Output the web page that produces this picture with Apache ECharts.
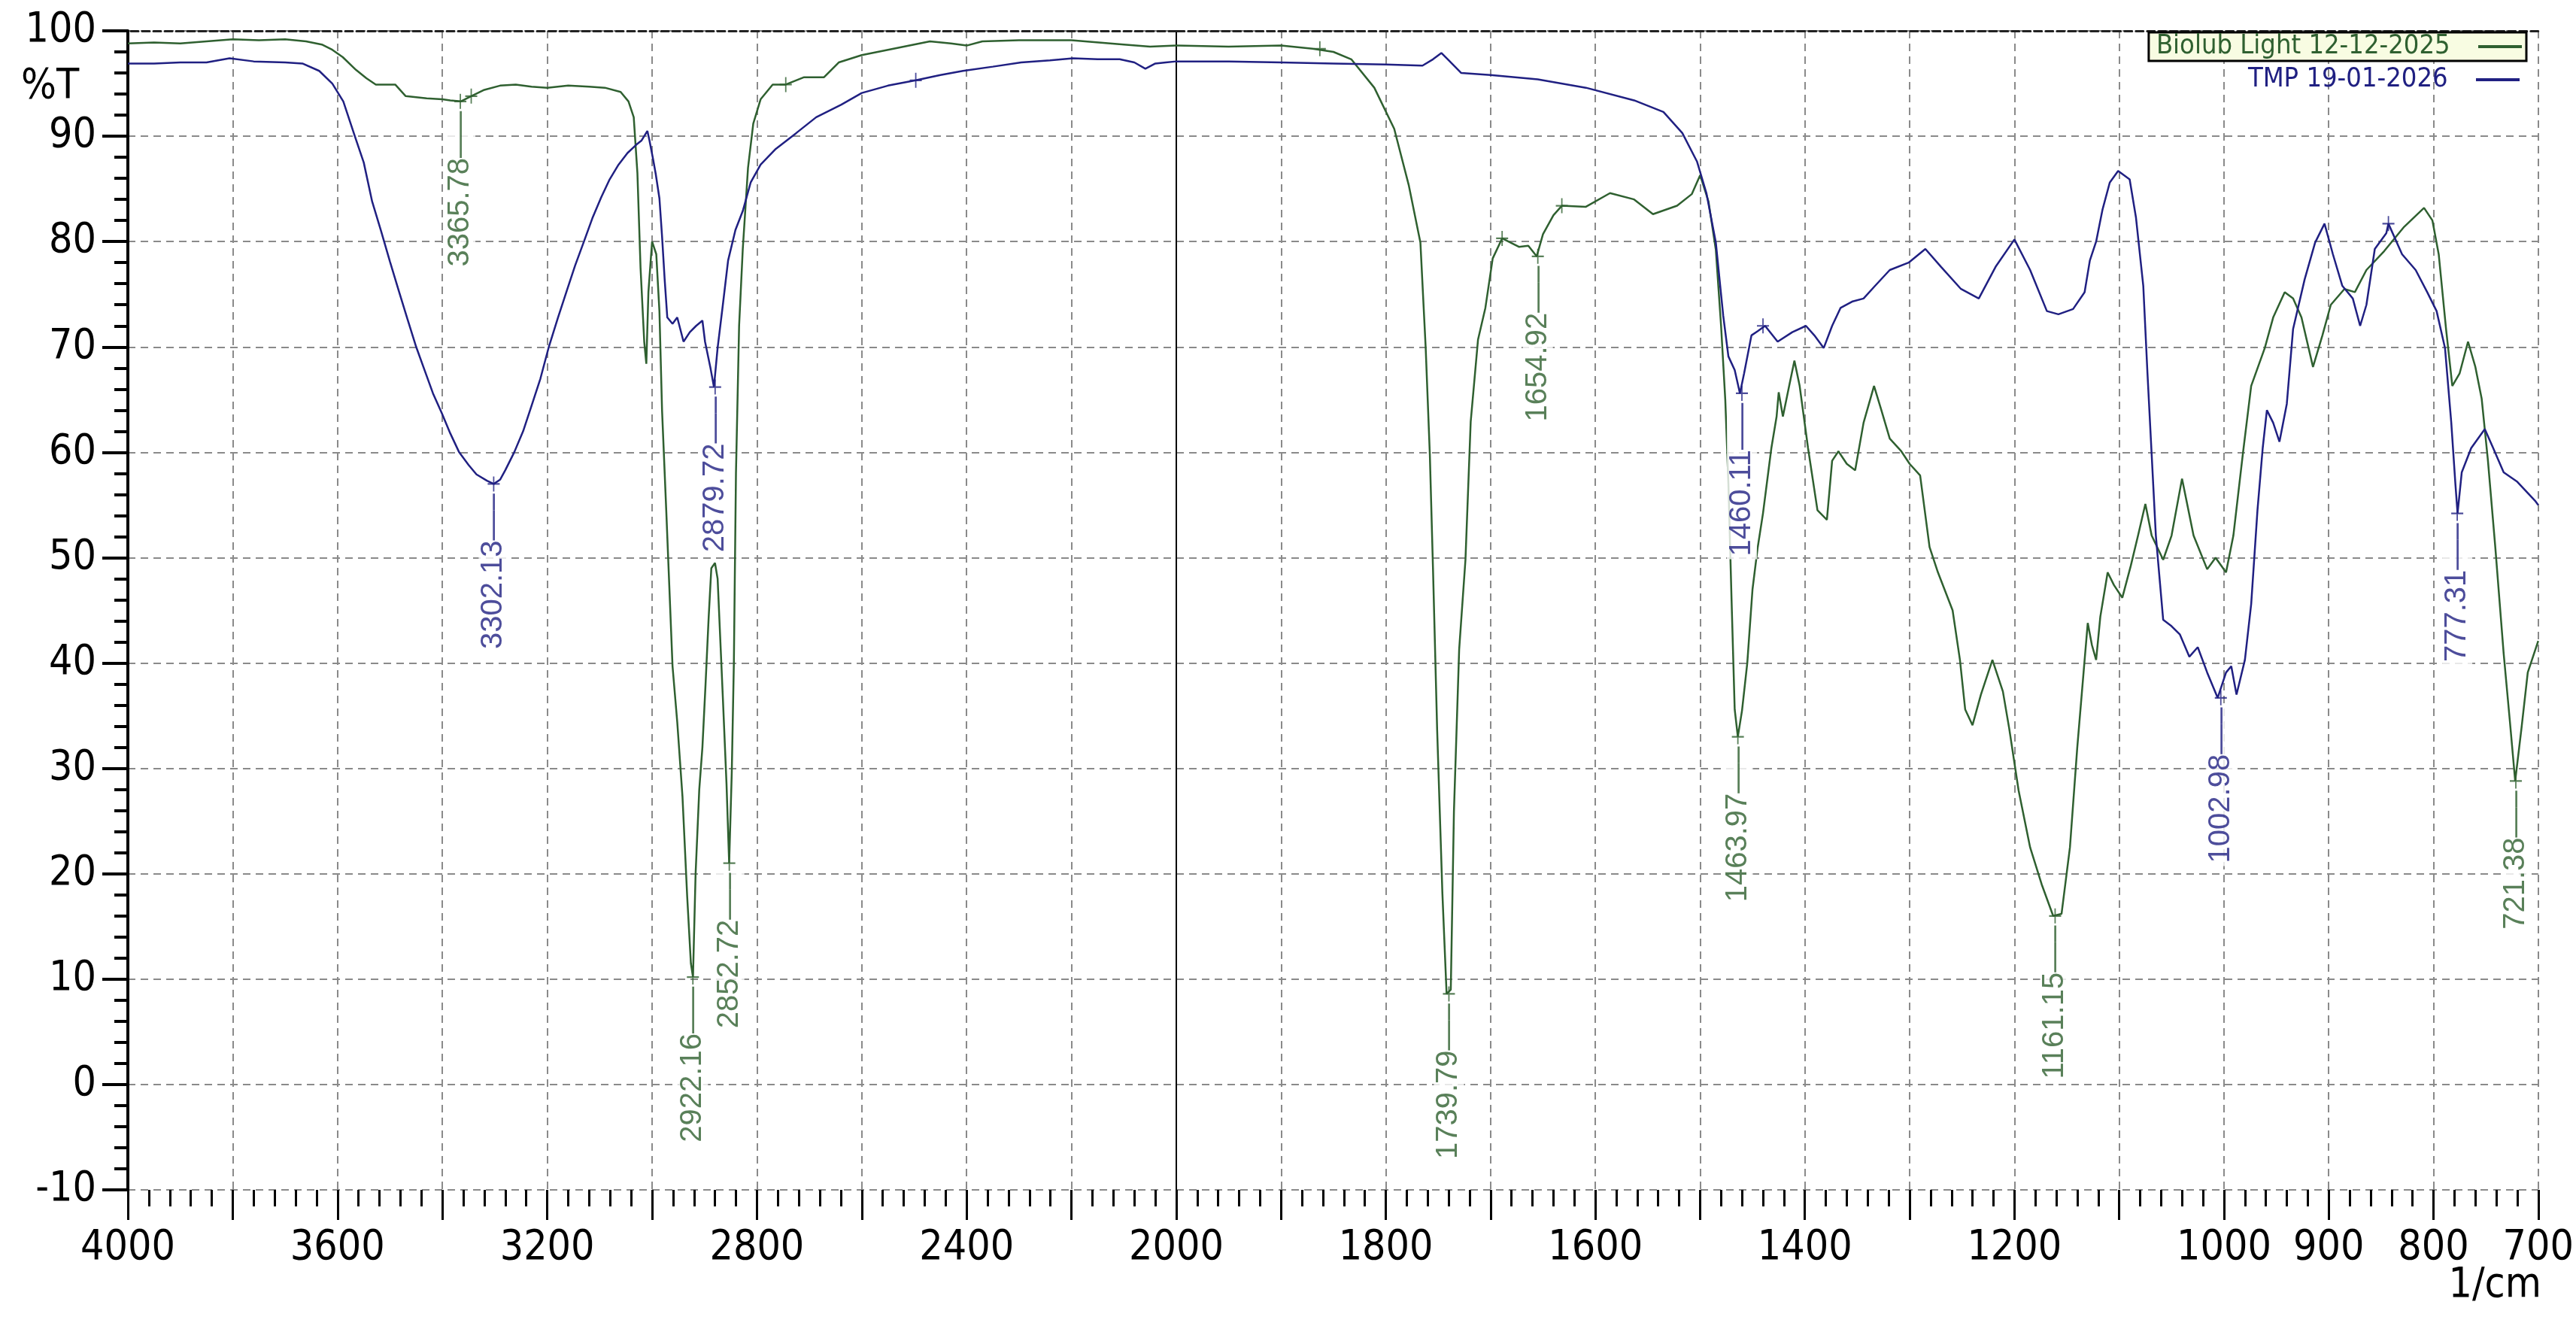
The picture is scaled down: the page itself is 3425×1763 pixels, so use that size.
<!DOCTYPE html>
<html>
<head>
<meta charset="utf-8">
<title>IR spectra</title>
<script src="https://cdn.jsdelivr.net/npm/echarts@6/dist/echarts.min.js"></script>
<style>
  html, body { margin: 0; padding: 0; background: #fff; }
  #chart { width: 3425px; height: 1763px; }
</style>
</head>
<body>
<div id="chart"></div>
<script>
// spectrum names
const greenName = 'Biolub Light 12-12-2025'
const blueName = 'TMP 19-01-2026'

// Biolub Light: wavenumber (1/cm) and %T
const greenWn = [4000, 3950, 3900, 3850, 3800, 3750, 3700, 3660, 3630, 3610, 3590, 3565, 3545, 3527, 3490, 3470, 3430, 3400, 3385, 3365, 3345, 3320, 3290, 3260, 3230, 3200, 3160, 3120, 3090, 3060, 3045, 3035, 3028, 3022, 3015, 3011, 3007, 3000, 2992, 2986, 2981, 2973, 2961, 2952, 2942, 2933, 2926, 2922, 2917, 2910, 2904, 2898, 2892, 2887, 2880, 2875, 2865, 2858, 2853, 2848, 2844, 2840, 2834, 2827, 2817, 2807, 2793, 2770, 2745, 2710, 2672, 2644, 2600, 2550, 2470, 2430, 2400, 2370, 2300, 2200, 2100, 2050, 2000,
  1950, 1900, 1870, 1850, 1833, 1811, 1792, 1778, 1767, 1762, 1758, 1755, 1751, 1746, 1742, 1738, 1735, 1730, 1724, 1719, 1712, 1705, 1698, 1689, 1673, 1664, 1656, 1650, 1640, 1632, 1609, 1586, 1563, 1545, 1522, 1508, 1500, 1492, 1485, 1480, 1476, 1473, 1470, 1467, 1464, 1460, 1455, 1450, 1445, 1440, 1432, 1427, 1425, 1421, 1415, 1410, 1405, 1397, 1388, 1379, 1374, 1368, 1360, 1352, 1344, 1334, 1327, 1319, 1308, 1300, 1290, 1281, 1273, 1259, 1252, 1247, 1240, 1232, 1221, 1211, 1205, 1196, 1185, 1174, 1163, 1155, 1147, 1140, 1134, 1130, 1126, 1122, 1118, 1111, 1105, 1097, 1089, 1082, 1075, 1069, 1058, 1050, 1040, 1029, 1016, 1008, 998, 991, 982, 974, 961, 953, 942, 934, 926, 915, 906, 898, 885, 875, 864, 847, 828, 809, 801, 795, 788, 782, 775, 767, 760, 754, 748, 741, 733, 727, 722, 716, 710, 700]
const greenT = [98.8, 98.9, 98.8, 99.0, 99.2, 99.1, 99.2, 99.0, 98.7, 98.2, 97.5, 96.3, 95.5, 94.9, 94.9, 93.8, 93.6, 93.5, 93.4, 93.3, 93.8, 94.4, 94.8, 94.9, 94.7, 94.6, 94.8, 94.7, 94.6, 94.2, 93.3, 91.8, 86.5, 77.5, 70.5, 68.4, 75.2, 80.0, 78.8, 73.4, 64.0, 54.5, 39.7, 34.4, 27.3, 17.8, 11.5, 10.2, 20.0, 28.0, 32.0, 38.0, 44.4, 49.0, 49.5, 48.0, 36.7, 28.5, 21.0, 29.6, 40.0, 58.0, 72.0, 79.3, 87.0, 91.2, 93.5, 94.9, 94.9, 95.6, 95.6, 97.0, 97.7, 98.2, 99.0, 98.8, 98.6, 99.0, 99.1, 99.1, 98.7, 98.5, 98.6,
  98.5, 98.6, 98.3, 98.0, 97.3, 94.6, 90.7, 85.3, 79.9, 70.0, 59.8, 49.0, 33.6, 18.1, 8.6, 9.0, 25.9, 41.3, 49.8, 62.9, 70.7, 73.7, 78.4, 80.3, 79.5, 79.6, 78.6, 80.7, 82.5, 83.4, 83.3, 84.6, 84.0, 82.6, 83.4, 84.5, 86.3, 83.8, 79.2, 72.0, 65.0, 57.0, 46.0, 35.6, 33.0, 35.5, 40.0, 47.0, 51.0, 54.2, 60.4, 63.4, 65.7, 63.4, 66.3, 68.7, 66.3, 60.4, 54.5, 53.6, 59.2, 60.1, 58.9, 58.3, 62.8, 66.3, 64.0, 61.3, 60.1, 58.9, 57.8, 51.0, 48.6, 45.0, 40.3, 35.6, 34.1, 37.0, 40.3, 37.3, 33.8, 27.9, 22.5, 19.0, 16.0, 16.2, 22.5, 32.0, 39.1, 43.8, 41.7, 40.3, 44.4, 48.6, 47.4, 46.2, 49.2, 52.1, 55.1, 52.1, 49.8, 52.1, 57.5, 52.1, 48.9, 50.0, 48.6, 52.1, 59.8, 66.3, 69.9, 72.8, 75.2, 74.6, 72.8, 68.1, 71.1, 74.0, 75.5, 75.2, 77.3, 79.1, 81.4, 83.2, 82.0, 78.8, 71.7, 66.3, 67.5, 70.5, 68.1, 65.1, 59.2, 51.0, 40.9, 34.4, 28.8, 33.8, 39.1, 42.1]

// TMP: wavenumber (1/cm) and %T
const blueWn = [4000, 3950, 3900, 3850, 3806, 3760, 3700, 3667, 3635, 3610, 3589, 3567, 3550, 3534, 3517, 3500, 3483, 3467, 3450, 3434, 3418, 3401, 3385, 3368, 3350, 3335, 3315, 3302, 3290, 3280, 3263, 3246, 3230, 3213, 3197, 3180, 3163, 3147, 3130, 3114, 3097, 3081, 3064, 3047, 3030, 3020, 3009, 3005, 2998, 2993, 2986, 2981, 2976, 2971, 2961, 2952, 2940, 2928, 2916, 2904, 2899, 2889, 2882, 2875, 2865, 2855, 2841, 2827, 2812, 2793, 2764, 2725, 2687, 2639, 2600, 2550, 2497, 2450, 2407, 2350, 2296, 2241, 2197, 2150, 2108, 2080, 2059, 2040, 2020, 2000,
  1950, 1900, 1850, 1800, 1765, 1755, 1747, 1740, 1728, 1700, 1655, 1609, 1563, 1535, 1517, 1503, 1494, 1485, 1478, 1473, 1467, 1462, 1458, 1451, 1445, 1438, 1426, 1412, 1399, 1391, 1382, 1374, 1366, 1355, 1344, 1333, 1319, 1301, 1285, 1270, 1251, 1234, 1218, 1200, 1185, 1169, 1158, 1144, 1133, 1128, 1122, 1116, 1109, 1101, 1090, 1084, 1077, 1073, 1069, 1065, 1058, 1050, 1042, 1033, 1025, 1016, 1006, 998, 993, 988, 980, 974, 968, 963, 959, 953, 947, 940, 934, 923, 913, 904, 896, 887, 877, 870, 864, 856, 845, 843, 830, 817, 806, 797, 789, 783, 779, 777, 773, 764, 751, 743, 733, 720, 703, 700]
const blueT = [96.9, 96.9, 97.0, 97.0, 97.4, 97.1, 97.0, 96.9, 96.2, 95.0, 93.3, 90.0, 87.5, 83.8, 81.0, 78.1, 75.3, 72.7, 70.0, 67.8, 65.6, 63.7, 61.8, 60.0, 58.8, 57.9, 57.3, 57.0, 57.4, 58.3, 60.0, 62.0, 64.4, 67.0, 70.0, 72.7, 75.3, 77.7, 80.0, 82.2, 84.2, 85.9, 87.3, 88.4, 89.2, 89.6, 90.5, 89.6, 87.8, 86.4, 84.1, 80.5, 76.4, 72.8, 72.2, 72.8, 70.5, 71.4, 72.0, 72.5, 70.5, 68.1, 66.2, 69.9, 74.0, 78.2, 81.1, 82.9, 85.6, 87.3, 88.8, 90.3, 91.8, 93.0, 94.1, 94.8, 95.3, 95.8, 96.2, 96.6, 97.0, 97.2, 97.4, 97.3, 97.3, 97.0, 96.4, 96.9, 97.0, 97.1,
  97.1, 97.0, 96.9, 96.8, 96.7, 97.3, 97.9, 97.2, 96.0, 95.8, 95.4, 94.6, 93.4, 92.3, 90.3, 87.6, 84.6, 79.9, 73.0, 69.1, 67.8, 65.6, 67.5, 71.1, 71.5, 72.0, 70.5, 71.4, 72.0, 71.1, 69.9, 72.0, 73.7, 74.3, 74.6, 75.8, 77.3, 78.0, 79.3, 77.6, 75.5, 74.6, 77.6, 80.2, 77.3, 73.4, 73.1, 73.6, 75.2, 78.2, 80.0, 83.0, 85.6, 86.7, 85.9, 82.3, 75.8, 67.5, 59.8, 52.1, 44.1, 43.5, 42.7, 40.6, 41.5, 39.1, 36.7, 39.1, 39.7, 37.0, 40.3, 45.6, 54.5, 60.4, 64.0, 62.8, 61.0, 64.6, 71.7, 76.4, 79.9, 81.7, 78.8, 75.8, 74.6, 72.0, 74.0, 79.3, 80.8, 81.7, 78.8, 77.3, 75.2, 73.4, 69.9, 62.8, 56.9, 54.2, 58.1, 60.4, 62.2, 60.4, 58.1, 57.2, 55.4, 55.0]

// labelled peaks
const greenPeakWn = [3365.78, 2922.16, 2852.72, 1739.79, 1654.92, 1463.97, 1161.15, 721.38]
const greenPeakT = [93.3, 10.2, 21.0, 8.6, 78.6, 33.0, 16.0, 28.8]
const bluePeakWn = [3302.13, 2879.72, 1460.11, 1002.98, 777.31]
const bluePeakT = [57.0, 66.2, 65.6, 36.7, 54.2]

// unlabelled peak marks
const greenMarkWn = [3345, 2745, 1863, 1689, 1632]
const greenMarkT = [93.8, 94.9, 98.3, 80.3, 83.4]
const blueMarkWn = [2497, 1440, 843]
const blueMarkT = [95.3, 72.0, 81.7]

// tick labels on the x axis
const leftTickLabels = [4000, 3600, 3200, 2800, 2400, 2000]
const rightTickLabels = [1800, 1600, 1400, 1200, 1000, 900, 800, 700]

const GREEN = '#2f6030'
const BLUE = '#202082'
const AXIS_FONT = "'Liberation Sans Narrow', 'Arial Narrow', 'DejaVu Sans Condensed', sans-serif"
const PEAK_FONT = "'Liberation Sans', Arial, sans-serif"
const BREAK = 2000

// split a spectrum into the part left / right of the scale break
function pairs(wn, t, left) {
  const out = []
  wn.forEach((w, i) => {
    if (left ? w >= BREAK : w <= BREAK) out.push([w, t[i]])
  })
  return out
}

function peakData(wn, t, left) {
  const out = []
  wn.forEach((w, i) => {
    if (left ? w >= BREAK : w <= BREAK) out.push([w, t[i], w.toFixed(2)])
  })
  return out
}

const plusSymbol = 'path://M0,10 L20,10 M10,0 L10,20'

function lineSeries(name, color, data, axis) {
  return {
    name: name,
    type: 'line',
    xAxisIndex: axis,
    yAxisIndex: axis,
    data: data,
    showSymbol: false,
    symbol: 'none',
    color: color,
    lineStyle: { color: color, width: 2.5 },
    z: 3
  }
}

function peakSeries(name, color, data, axis) {
  return {
    name: name,
    type: 'scatter',
    xAxisIndex: axis,
    yAxisIndex: axis,
    data: data,
    symbol: plusSymbol,
    symbolSize: [16, 20],
    itemStyle: { color: 'none', borderColor: color, borderWidth: 2 },
    label: {
      show: true,
      position: 'bottom',
      distance: 0,
      rotate: 90,
      align: 'right',
      verticalAlign: 'middle',
      color: color,
      fontFamily: PEAK_FONT,
      fontSize: 40,
      backgroundColor: '#fff',
      padding: [0, 0, 0, 4],
      formatter: p => p.value[2] + '\u2014\u2013'
    },
    z: 5
  }
}

function markSeries(name, color, data, axis) {
  return {
    name: name,
    type: 'scatter',
    xAxisIndex: axis,
    yAxisIndex: axis,
    data: data,
    symbol: plusSymbol,
    symbolSize: [16, 20],
    itemStyle: { color: 'none', borderColor: color, borderWidth: 2 },
    z: 4
  }
}

const dashed = { color: '#8a8a8a', width: 2, type: [10, 7] }

function bottomAxis(grid, min, max, interval, labels) {
  return {
    type: 'value',
    gridIndex: grid,
    position: 'bottom',
    inverse: true,
    min: min,
    max: max,
    interval: interval,
    axisLine: { show: false, onZero: false },
    axisTick: { show: true, length: 40, lineStyle: { color: '#000', width: 3 } },
    minorTick: { show: true, splitNumber: 5, length: 22, lineStyle: { color: '#000', width: 3 } },
    splitLine: { show: true, lineStyle: dashed },
    axisLabel: {
      show: true,
      margin: 50,
      showMinLabel: true,
      showMaxLabel: true,
      color: '#000',
      fontFamily: AXIS_FONT,
      fontSize: 55,
      formatter: v => (labels.indexOf(v) >= 0 ? String(v) : '')
    }
  }
}

function topAxis(grid, min, max) {
  return {
    type: 'value',
    gridIndex: grid,
    position: 'top',
    inverse: true,
    min: min,
    max: max,
    axisLine: { show: true, onZero: false, lineStyle: { color: '#222', width: 3, type: [10, 5] } },
    axisTick: { show: false },
    axisLabel: { show: false },
    splitLine: { show: false }
  }
}

// legend text followed by an em space as the gap before the line sample
const legendText = name => name + '\u2003'

const chart = echarts.init(document.getElementById('chart'))

const option = {
  animation: false,
  backgroundColor: '#fff',
  grid: [
    { left: 170, top: 41, width: 1394, height: 1541 },
    { left: 1564, top: 41, width: 1815, height: 1541 }
  ],
  xAxis: [
    bottomAxis(0, 2000, 4000, 200, leftTickLabels),
    bottomAxis(1, 700, 2000, 100, rightTickLabels),
    topAxis(0, 2000, 4000),
    topAxis(1, 700, 2000)
  ],
  yAxis: [
    {
      type: 'value',
      gridIndex: 0,
      min: -10,
      max: 100,
      interval: 10,
      axisLine: { show: true, onZero: false, lineStyle: { color: '#000', width: 4 } },
      axisTick: { show: true, length: 34, lineStyle: { color: '#000', width: 4 } },
      minorTick: { show: true, splitNumber: 5, length: 18, lineStyle: { color: '#000', width: 4 } },
      splitLine: { show: true, lineStyle: dashed },
      axisLabel: { margin: 42, color: '#000', fontFamily: AXIS_FONT, fontSize: 55 }
    },
    {
      type: 'value',
      gridIndex: 1,
      min: -10,
      max: 100,
      interval: 10,
      axisLine: { show: true, onZero: false, lineStyle: { color: '#000', width: 2 } },
      axisTick: { show: false },
      axisLabel: { show: false },
      splitLine: { show: true, lineStyle: dashed }
    }
  ],
  legend: [
    {
      data: [{ name: greenName }],
      right: 66,
      top: 43,
      align: 'right',
      icon: 'rect',
      itemWidth: 58,
      itemHeight: 4,
      selectedMode: false,
      padding: [1, 6, 1, 10],
      borderColor: '#000',
      borderWidth: 3,
      backgroundColor: '#f8fce2',
      formatter: legendText,
      textStyle: { color: GREEN, fontFamily: AXIS_FONT, fontSize: 36 }
    },
    {
      data: [{ name: blueName }],
      right: 75,
      top: 88,
      align: 'right',
      icon: 'rect',
      itemWidth: 58,
      itemHeight: 4,
      selectedMode: false,
      padding: 0,
      formatter: legendText,
      textStyle: { color: BLUE, fontFamily: AXIS_FONT, fontSize: 36 }
    }
  ],
  graphic: [
    {
      type: 'text',
      left: 28,
      top: 88,
      style: { text: '%T', fill: '#000', font: '55px ' + AXIS_FONT }
    },
    {
      type: 'text',
      right: 46,
      top: 1682,
      style: { text: '1/cm', fill: '#000', font: '55px ' + AXIS_FONT }
    }
  ],
  series: [
    lineSeries(greenName, GREEN, pairs(greenWn, greenT, true), 0),
    lineSeries(greenName, GREEN, pairs(greenWn, greenT, false), 1),
    lineSeries(blueName, BLUE, pairs(blueWn, blueT, true), 0),
    lineSeries(blueName, BLUE, pairs(blueWn, blueT, false), 1),
    markSeries(greenName, GREEN, pairs(greenMarkWn, greenMarkT, true), 0),
    markSeries(greenName, GREEN, pairs(greenMarkWn, greenMarkT, false), 1),
    markSeries(blueName, BLUE, pairs(blueMarkWn, blueMarkT, true), 0),
    markSeries(blueName, BLUE, pairs(blueMarkWn, blueMarkT, false), 1),
    peakSeries(greenName, GREEN, peakData(greenPeakWn, greenPeakT, true), 0),
    peakSeries(greenName, GREEN, peakData(greenPeakWn, greenPeakT, false), 1),
    peakSeries(blueName, BLUE, peakData(bluePeakWn, bluePeakT, true), 0),
    peakSeries(blueName, BLUE, peakData(bluePeakWn, bluePeakT, false), 1)
  ]
}

chart.setOption(option)
</script>
</body>
</html>
